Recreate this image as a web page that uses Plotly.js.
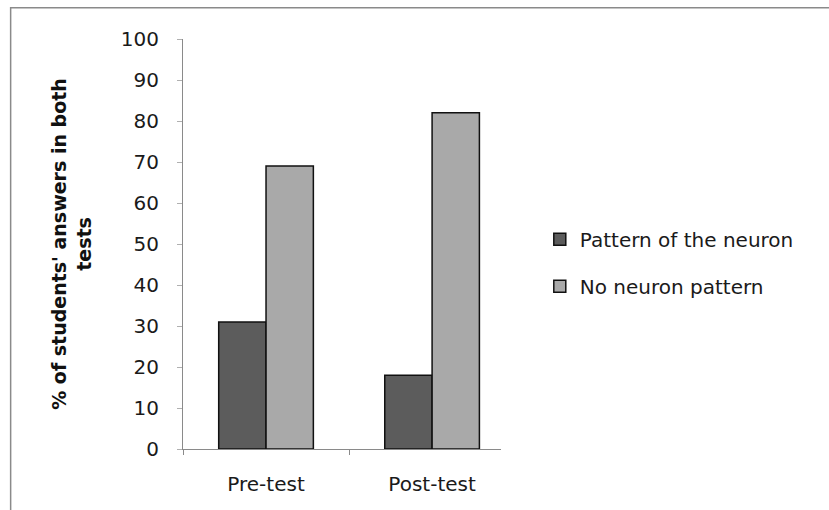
<!DOCTYPE html>
<html><head><meta charset="utf-8">
<script src="https://cdn.plot.ly/plotly-3.0.1.min.js"></script>
<style>html,body{margin:0;padding:0;background:#fff}#chart{width:829px;height:510px}</style>
</head><body><div id="chart"></div>
<script>
const categories = ["Pre-test", "Post-test"];
const patternOfNeuron = [31, 18];
const noNeuronPattern = [69, 82];
const seriesNames = ["Pattern of the neuron", "No neuron pattern"];
const yTicks = [0,10,20,30,40,50,60,70,80,90,100];

const font = {family: "'DejaVu Sans', sans-serif", size: 20, color: "#1a1a1a"};
const titleFont = {family: "'DejaVu Sans', sans-serif", size: 19, color: "#111", weight: "bold"};
const traces = [
  {type:"bar", x:categories, y:patternOfNeuron, name:seriesNames[0], legendgroup:"a",
   marker:{color:"#5c5c5c", line:{color:"#111", width:1.5}}, hoverinfo:"none"},
  {type:"bar", x:categories, y:noNeuronPattern, name:seriesNames[1], legendgroup:"b",
   marker:{color:"#a9a9a9", line:{color:"#111", width:1.5}}, hoverinfo:"none"}
];
const layout = {
  width:829, height:510,
  margin:{l:183, r:328, t:39, b:61},
  paper_bgcolor:"#fff", plot_bgcolor:"#fff",
  font:font,
  barmode:"group", bargap:0.43, bargroupgap:0,
  showlegend:true,
  legend:{x:1.122, xanchor:"left", y:0.454, yanchor:"middle", font:font,
          traceorder:"grouped", tracegroupgap:18, itemwidth:30, bgcolor:"rgba(0,0,0,0)"},
  xaxis:{type:"category", range:[-0.5,1.415], showline:true, linecolor:"#8a8a8a", linewidth:1,
         ticks:"outside", tickson:"boundaries", ticklen:5, tickcolor:"#8a8a8a",
         showgrid:false, zeroline:false, tickfont:font, ticklabelstandoff:17, fixedrange:true},
  yaxis:{range:[0,100], tickvals:yTicks, showline:true, linecolor:"#8a8a8a", linewidth:1,
         ticks:"outside", ticklen:5, tickcolor:"#b0b0b0", showgrid:false, zeroline:false,
         tickfont:font, ticklabelstandoff:14,
         title:{text:"% of students' answers in both<br>tests", font:titleFont, standoff:24}},
  shapes:[{type:"rect", xref:"paper", yref:"paper", x0:-0.542, x1:2.04, y0:-0.25, y1:1.076,
           line:{color:"#8a8a8a", width:1.5}, fillcolor:"rgba(0,0,0,0)", layer:"below"}]
};
Plotly.newPlot("chart", traces, layout, {displayModeBar:false, staticPlot:true});
</script></body></html>
